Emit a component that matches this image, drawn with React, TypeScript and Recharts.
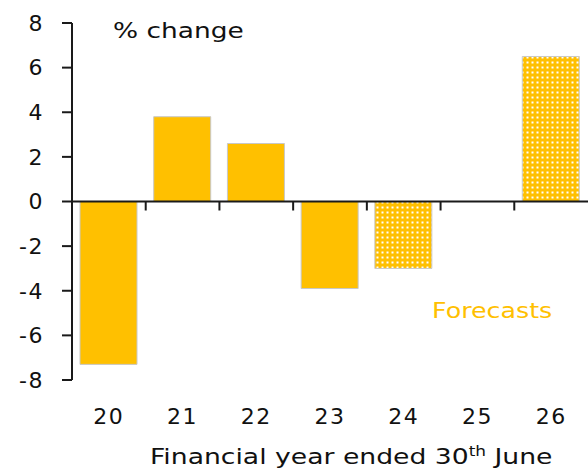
import React from 'react';
import { BarChart, Bar, Cell, XAxis, YAxis, ReferenceLine } from 'recharts';

const years = ['20', '21', '22', '23', '24', '25', '26'];
const growth: (number | null)[] = [-7.3, 3.8, 2.6, -3.9, -3.0, null, 6.5];
const isForecast = [false, false, false, false, true, true, true];
const yTicks = [-8, -6, -4, -2, 0, 2, 4, 6, 8];

const font = '"DejaVu Sans", sans-serif';
const gold = '#FFC000';

const data = years.map((year, i) => ({ year, value: growth[i], forecast: isForecast[i] }));

// zero line with small ticks between the categories, pointing down
const ZeroAxis = (props: any) => {
  const { x1, x2, y1 } = props;
  const step = (x2 - x1) / years.length;
  return (
    <g>
      <line x1={x1} x2={x2} y1={y1} y2={y1} stroke="#1a1a1a" strokeWidth={2} />
      {years.slice(1).map((_, i) => (
        <line
          key={i}
          x1={x1 + step * (i + 1)}
          x2={x1 + step * (i + 1)}
          y1={y1}
          y2={y1 + 9}
          stroke="#1a1a1a"
          strokeWidth={2}
        />
      ))}
    </g>
  );
};

// wider text, closer to the original's geometric font
const wide = (scale: number): React.CSSProperties => ({
  position: 'absolute',
  whiteSpace: 'nowrap',
  fontSize: 22,
  transform: `scaleX(${scale})`,
  transformOrigin: 'left center',
});

const tickStyle = { fontSize: 22, fill: '#111', fontFamily: font, letterSpacing: 1.5 };

const App = () => {
  return (
    <div style={{ position: 'relative', width: 588, height: 471, fontFamily: font, background: '#fff' }}>
      <style>{'body{margin:0}'}</style>
      <BarChart width={588} height={471} data={data} margin={{ top: 23, right: 0, bottom: 0, left: 0 }}>
        <defs>
          <pattern id="dots" width="5" height="5" patternUnits="userSpaceOnUse">
            <rect width="5" height="5" fill={gold} />
            <rect x="1.5" y="1.5" width="2" height="2" fill="#fff" />
          </pattern>
        </defs>
        <XAxis
          dataKey="year"
          axisLine={false}
          tickLine={false}
          height={91}
          tickMargin={22}
          tick={tickStyle}
        />
        <YAxis
          domain={[-8, 8]}
          ticks={yTicks}
          width={72}
          interval={0}
          axisLine={{ stroke: '#1a1a1a', strokeWidth: 2 }}
          tickLine={{ stroke: '#1a1a1a', strokeWidth: 2 }}
          tickSize={10}
          tickMargin={18}
          tick={tickStyle}
        />
        <Bar dataKey="value" barSize={57} stroke="#c8c8c8" strokeWidth={1} isAnimationActive={false}>
          {data.map((d, i) => (
            <Cell key={i} fill={d.forecast ? 'url(#dots)' : gold} />
          ))}
        </Bar>
        <ReferenceLine y={0} shape={ZeroAxis} />
      </BarChart>
      <div style={{ ...wide(1.2), left: 113, top: 18, color: '#111' }}>% change</div>
      <div style={{ ...wide(1.15), left: 432, top: 298, color: gold }}>Forecasts</div>
      <div style={{ ...wide(1.21), left: 150, top: 444, color: '#111' }}>
        Financial year ended 30<sup style={{ fontSize: 14, lineHeight: 0 }}>th</sup> June
      </div>
    </div>
  );
};

export default App;
